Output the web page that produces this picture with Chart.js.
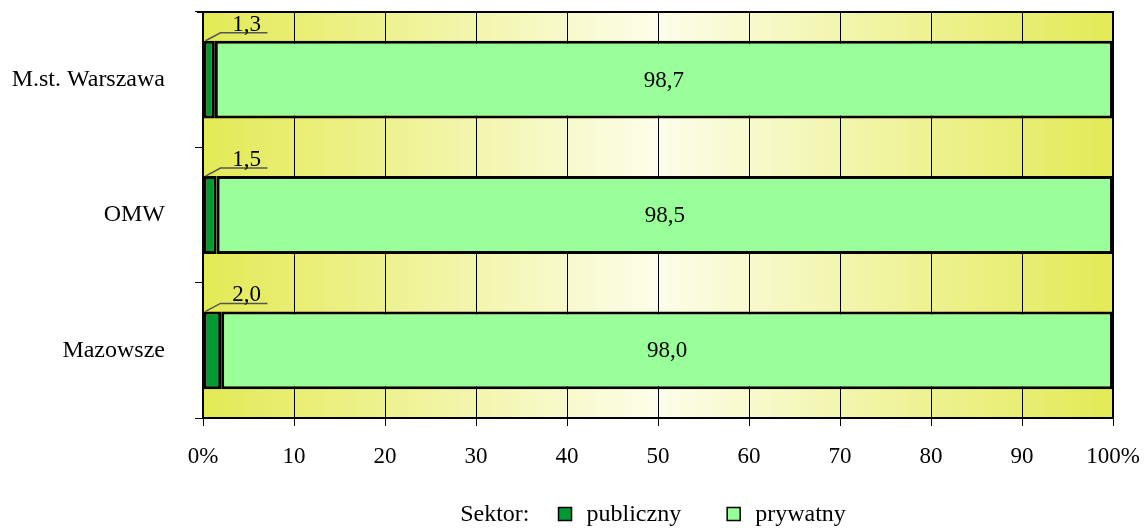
<!DOCTYPE html>
<html>
<head>
<meta charset="utf-8">
<script src="https://cdn.jsdelivr.net/npm/chart.js@4/dist/chart.umd.min.js"></script>
<style>
  html, body { margin: 0; padding: 0; background: #fff; }
  #wrap { width: 1145px; height: 531px; position: relative; }
</style>
</head>
<body>
<div id="wrap"><canvas id="sektorChart"></canvas></div>
<script>
// Udział sektorów (%)
const regions = ['M.st. Warszawa', 'OMW', 'Mazowsze'];
const publiczny = [1.3, 1.5, 2.0];
const prywatny = [98.7, 98.5, 98.0];
const xTicks = [0, 10, 20, 30, 40, 50, 60, 70, 80, 90, 100];
const legendTitle = 'Sektor:';

const FONT = "'Liberation Serif', 'Times New Roman', serif";
const fmt = v => v.toFixed(1).replace('.', ',');

// tło obszaru wykresu: żółte brzegi, jasny środek
const plotBackground = {
    id: 'plotBackground',
    beforeDraw(chart) {
        const {ctx, chartArea: a} = chart;
        const g = ctx.createLinearGradient(a.left, 0, a.right, 0);
        g.addColorStop(0, '#e3ea55');
        g.addColorStop(0.5, '#fdfdea');
        g.addColorStop(1, '#e3ea55');
        ctx.save();
        ctx.fillStyle = g;
        ctx.fillRect(a.left, a.top, a.right - a.left, a.bottom - a.top);
        ctx.restore();
    },
    afterDraw(chart) {
        const {ctx, chartArea: a} = chart;
        ctx.save();
        ctx.strokeStyle = '#000';
        ctx.lineWidth = 2;
        ctx.beginPath();
        ctx.moveTo(a.left - 6, a.top);
        ctx.lineTo(a.right, a.top);
        ctx.lineTo(a.right, a.bottom);
        ctx.stroke();
        ctx.restore();
    }
};

// etykiety wartości
const valueLabels = {
    id: 'valueLabels',
    afterDatasetsDraw(chart) {
        const {ctx} = chart;
        ctx.save();
        ctx.font = '23px ' + FONT;
        ctx.fillStyle = '#000';
        // prywatny - w środku słupka
        chart.getDatasetMeta(1).data.forEach((bar, i) => {
            ctx.textAlign = 'center';
            ctx.textBaseline = 'middle';
            ctx.fillText(fmt(prywatny[i]), (bar.base + bar.x) / 2, bar.y + 1);
        });
        // publiczny - nad słupkiem z linią odniesienia
        chart.getDatasetMeta(0).data.forEach((bar, i) => {
            const top = bar.y - bar.height / 2;
            const x0 = bar.base + 2;
            ctx.strokeStyle = '#555';
            ctx.lineWidth = 1.5;
            ctx.beginPath();
            ctx.moveTo(x0, top);
            ctx.lineTo(x0 + 15, top - 8);
            ctx.lineTo(x0 + 62, top - 8);
            ctx.stroke();
            ctx.textAlign = 'center';
            ctx.textBaseline = 'alphabetic';
            ctx.fillText(fmt(publiczny[i]), x0 + 41, top - 10);
        });
        ctx.restore();
    }
};

// legenda w jednym wierszu z tytułem po lewej
const sektorLegend = {
    id: 'sektorLegend',
    afterDraw(chart) {
        const {ctx, chartArea: a} = chart;
        const y = 515;
        ctx.save();
        ctx.font = '24px ' + FONT;
        ctx.textBaseline = 'middle';
        ctx.fillStyle = '#000';
        const items = chart.data.datasets.map(ds => ({label: ds.label, color: ds.backgroundColor}));
        const box = 13, gapBox = 15, gapItem = 46, gapTitle = 29;
        let total = ctx.measureText(legendTitle).width + gapTitle;
        items.forEach((it, k) => {
            total += box + gapBox + ctx.measureText(it.label).width + (k < items.length - 1 ? gapItem : 0);
        });
        let x = (a.left + a.right) / 2 - total / 2 - 5;
        ctx.textAlign = 'left';
        ctx.fillText(legendTitle, x, y);
        x += ctx.measureText(legendTitle).width + gapTitle;
        items.forEach(it => {
            ctx.fillStyle = it.color;
            ctx.fillRect(x, y - box / 2 - 1, box, box);
            ctx.strokeStyle = '#000';
            ctx.lineWidth = 1.5;
            ctx.strokeRect(x, y - box / 2 - 1, box, box);
            x += box + gapBox;
            ctx.fillStyle = '#000';
            ctx.fillText(it.label, x, y);
            x += ctx.measureText(it.label).width + gapItem;
        });
        ctx.restore();
    }
};

new Chart(document.getElementById('sektorChart'), {
    type: 'bar',
    data: {
        labels: regions,
        datasets: [{
            label: 'publiczny',
            data: publiczny,
            backgroundColor: '#009933',
            borderColor: '#000',
            borderWidth: 3,
            borderSkipped: false
        }, {
            label: 'prywatny',
            data: prywatny,
            backgroundColor: '#99ff99',
            borderColor: '#000',
            borderWidth: 3,
            borderSkipped: false
        }]
    },
    options: {
        indexAxis: 'y',
        responsive: true,
        maintainAspectRatio: false,
        animation: false,
        layout: { padding: { top: 12, right: 32, left: 0, bottom: 0 } },
        datasets: { bar: { categoryPercentage: 1, barPercentage: 0.575 } },
        plugins: {
            legend: { display: false },
            tooltip: { enabled: false }
        },
        scales: {
            x: {
                stacked: true,
                min: 0,
                max: 100,
                afterBuildTicks: scale => { scale.ticks = xTicks.map(v => ({value: v})); },
                afterFit: scale => {
                    scale.height = 113;
                    scale.paddingLeft = 0;
                    scale.paddingRight = 0;
                },
                grid: {
                    color: '#000',
                    lineWidth: 1,
                    tickLength: 8,
                    drawOnChartArea: true
                },
                border: { color: '#000', width: 2 },
                ticks: {
                    color: '#000',
                    padding: 17,
                    maxRotation: 0,
                    font: { family: FONT, size: 23 },
                    callback: v => (v === 0 || v === 100) ? v + '%' : v
                }
            },
            y: {
                stacked: true,
                afterFit: scale => {
                    scale.width = 203;
                    scale.paddingTop = 0;
                    scale.paddingBottom = 0;
                },
                grid: {
                    offset: true,
                    drawOnChartArea: false,
                    tickLength: 8,
                    color: '#000',
                    lineWidth: 1
                },
                border: { color: '#000', width: 2 },
                ticks: {
                    color: '#000',
                    padding: 30,
                    font: { family: FONT, size: 24 }
                }
            }
        }
    },
    plugins: [plotBackground, valueLabels, sektorLegend]
});
</script>
</body>
</html>
